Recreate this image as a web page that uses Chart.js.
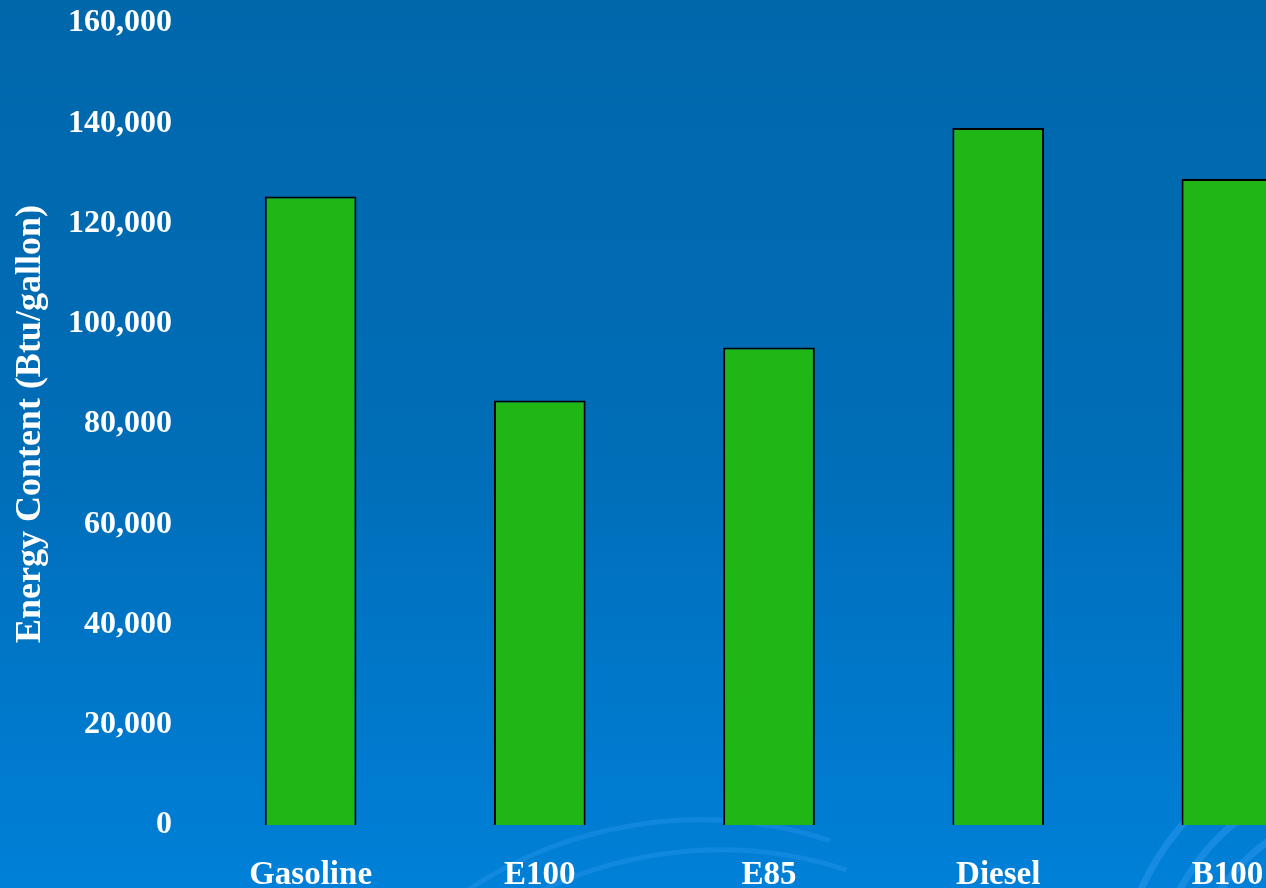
<!DOCTYPE html>
<html>
<head>
<meta charset="utf-8">
<script src="https://cdn.jsdelivr.net/npm/chart.js@4"></script>
<style>
    html, body { margin: 0; padding: 0; overflow: hidden; background: #006cb4; }
    #wrap { width: 1266px; height: 888px; overflow: hidden; }
    canvas { display: block; margin-top: -20px; }
</style>
</head>
<body>
<div id="wrap"><canvas id="grafico" width="1342" height="908"></canvas></div>
<script>
const combustiveis = ['Gasoline', 'E100', 'E85', 'Diesel', 'B100'];
const energia = [125400, 84700, 95300, 139100, 128900];
const tituloY = 'Energy Content (Btu/gallon)';

const fonte = '"Liberation Serif", "Times New Roman", serif';

// fundo em degradê com arcos claros
const fundo = {
    id: 'fundo',
    beforeDraw(chart) {
        const { ctx, width, height } = chart;
        ctx.save();
        const g = ctx.createLinearGradient(0, 20, 0, height);
        g.addColorStop(0, '#0067ab');
        g.addColorStop(0.5, '#006db7');
        g.addColorStop(1, '#0080d8');
        ctx.fillStyle = g;
        ctx.fillRect(0, 0, width, height);

        ctx.strokeStyle = 'rgba(40,150,235,0.55)';
        ctx.lineWidth = 7;
        [[1370, 1010, 250], [1370, 1010, 215], [1370, 1010, 180]].forEach(([x, y, r]) => {
            ctx.beginPath();
            ctx.arc(x, y, r, Math.PI * 1.05, Math.PI * 1.45);
            ctx.stroke();
        });
        ctx.lineWidth = 5;
        ctx.strokeStyle = 'rgba(40,150,235,0.4)';
        [[700, 1260, 420], [720, 1280, 410]].forEach(([x, y, r]) => {
            ctx.beginPath();
            ctx.arc(x, y, r, Math.PI * 1.3, Math.PI * 1.6);
            ctx.stroke();
        });
        ctx.restore();
    }
};

new Chart(document.getElementById('grafico').getContext('2d'), {
    type: 'bar',
    data: {
        labels: combustiveis,
        datasets: [{
            data: energia,
            backgroundColor: '#20b615',
            borderColor: '#000000',
            borderWidth: 2,
            barPercentage: 0.4,
            categoryPercentage: 1
        }]
    },
    options: {
        responsive: false,
        animation: false,
        layout: { padding: 0 },
        plugins: { legend: { display: false }, tooltip: { enabled: false } },
        scales: {
            x: {
                grid: { display: false, drawTicks: false },
                border: { display: false },
                ticks: { color: '#ffffff', padding: 31, font: { family: fonte, size: 33, weight: 'bold' } },
                afterFit: s => { s.height = 63; }
            },
            y: {
                min: 0, max: 160000,
                grid: { display: false, drawTicks: false },
                border: { display: false },
                ticks: {
                    stepSize: 20000, color: '#ffffff', padding: 24,
                    font: { family: fonte, size: 32, weight: 'bold' },
                    callback: v => v.toLocaleString('en-US')
                },
                title: {
                    display: true, text: tituloY, color: '#ffffff',
                    font: { family: fonte, size: 36, weight: 'bold' },
                    padding: { top: 9, bottom: 0 }
                },
                afterFit: s => { s.width = 196; }
            }
        }
    },
    plugins: [fundo]
});
</script>
</body>
</html>
